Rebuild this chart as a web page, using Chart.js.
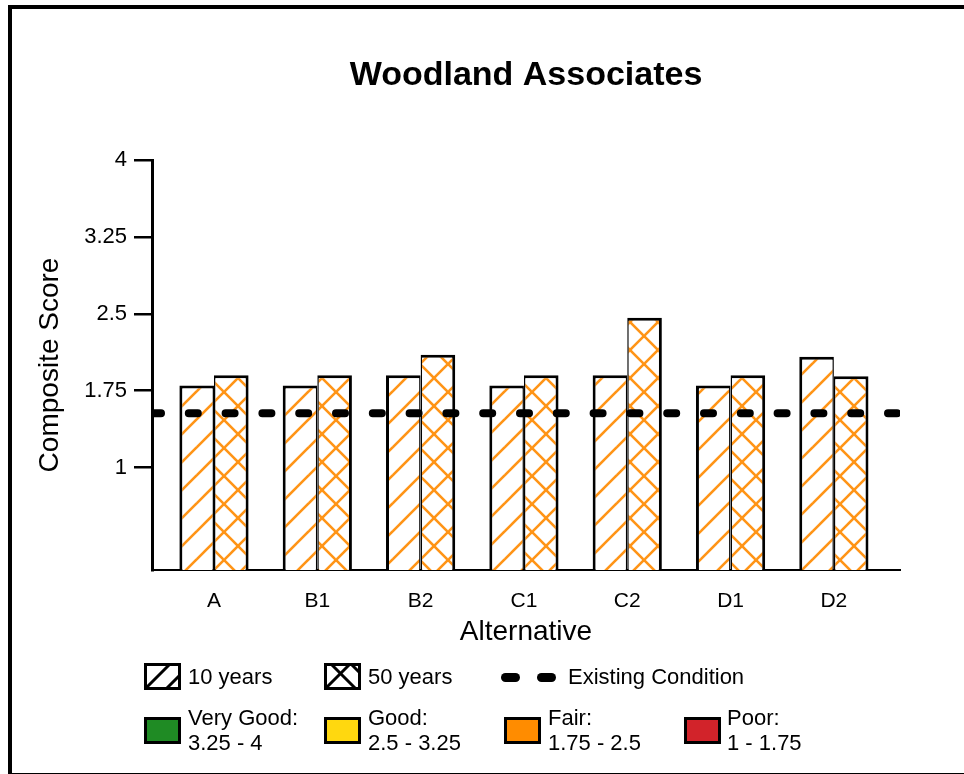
<!DOCTYPE html>
<html>
<head>
<meta charset="utf-8">
<script src="https://cdn.jsdelivr.net/npm/chart.js@4/dist/chart.umd.min.js"></script>
<style>
  html, body { margin: 0; padding: 0; background: #fff; overflow: hidden; }
  body { width: 964px; height: 774px; position: relative; font-family: 'Liberation Sans', Arial, sans-serif; color: #000; }
  #frame { position: absolute; left: 8px; top: 5px; width: 1000px; height: 764px; border-left: 4px solid #000; border-top: 4px solid #000; border-bottom: 2px solid #000; }
  #c { position: absolute; left: 0; top: 0; }
  .lg { position: absolute; font-size: 22px; line-height: 25px; white-space: nowrap; }
  .sw { position: absolute; box-sizing: border-box; border: 3px solid #000; }
  .dash { position: absolute; height: 9px; width: 19px; background: #000; border-radius: 5px; }
</style>
</head>
<body>
<div id="frame"></div>
<canvas id="c" width="964" height="774"></canvas>

<!-- legend row 1 -->
<svg class="sw" style="left:144px;top:663px;width:37px;height:27px;border:none" width="37" height="27">
  <rect x="1.5" y="1.5" width="34" height="24" fill="#fff" stroke="#000" stroke-width="3"/>
  <line x1="2" y1="25" x2="25" y2="2" stroke="#000" stroke-width="3"/>
  <line x1="23" y1="25" x2="35" y2="13" stroke="#000" stroke-width="3"/>
</svg>
<div class="lg" style="left:188px;top:664px">10 years</div>
<svg class="sw" style="left:324px;top:663px;width:37px;height:27px;border:none" width="37" height="27">
  <rect x="1.5" y="1.5" width="34" height="24" fill="#fff" stroke="#000" stroke-width="3"/>
  <line x1="2" y1="25" x2="25" y2="2" stroke="#000" stroke-width="3"/>
  <line x1="8" y1="2" x2="31" y2="25" stroke="#000" stroke-width="3"/>
  <line x1="28" y1="2" x2="35" y2="9" stroke="#000" stroke-width="3"/>
</svg>
<div class="lg" style="left:368px;top:664px">50 years</div>
<div class="dash" style="left:501px;top:673px"></div>
<div class="dash" style="left:537px;top:673px"></div>
<div class="lg" style="left:568px;top:664px">Existing Condition</div>

<!-- legend row 2 -->
<div class="sw" style="left:144px;top:717px;width:37px;height:27px;background:#1f8b24"></div>
<div class="lg" style="left:188px;top:705px">Very Good:<br>3.25 - 4</div>
<div class="sw" style="left:324px;top:717px;width:37px;height:27px;background:#ffd80f"></div>
<div class="lg" style="left:368px;top:705px">Good:<br>2.5 - 3.25</div>
<div class="sw" style="left:504px;top:717px;width:37px;height:27px;background:#ff8c00"></div>
<div class="lg" style="left:548px;top:705px">Fair:<br>1.75 - 2.5</div>
<div class="sw" style="left:684px;top:717px;width:37px;height:27px;background:#d2232a"></div>
<div class="lg" style="left:727px;top:705px">Poor:<br>1 - 1.75</div>

<script>
// ---- data ----
const categories = ['A', 'B1', 'B2', 'C1', 'C2', 'D1', 'D2'];
const tenYears   = [1.80, 1.80, 1.90, 1.80, 1.90, 1.80, 2.08];
const fiftyYears = [1.90, 1.90, 2.10, 1.90, 2.46, 1.90, 1.89];
const existingCondition = 1.53;
const yTicks = [1, 1.75, 2.5, 3.25, 4];
const xMin = -0.6, xMax = 6.64;

const ORANGE = '#ff9416';
function makeHatch(cross) {
  const s = 28;
  const cv = document.createElement('canvas');
  cv.width = s; cv.height = s;
  const g = cv.getContext('2d');
  g.fillStyle = '#fff'; g.fillRect(0, 0, s, s);
  g.strokeStyle = ORANGE; g.lineWidth = 2.6; g.lineCap = 'square';
  const line = (x1, y1, x2, y2) => { g.beginPath(); g.moveTo(x1, y1); g.lineTo(x2, y2); g.stroke(); };
  line(-2, s + 2, s + 2, -2);
  line(-2, 2, 2, -2);
  line(s - 2, s + 2, s + 2, s - 2);
  if (cross) {
    line(-2, -2, s + 2, s + 2);
    line(s - 2, -2, s + 2, 2);
    line(-2, s - 2, 2, s + 2);
  }
  return g.createPattern(cv, 'repeat');
}

Chart.defaults.font.family = "'Liberation Sans', Arial, sans-serif";
Chart.defaults.color = '#000';

new Chart(document.getElementById('c'), {
  type: 'bar',
  data: {
    datasets: [
      {
        type: 'line',
        label: 'Existing Condition',
        data: [{ x: xMin, y: existingCondition }, { x: xMax, y: existingCondition }],
        borderColor: '#000',
        borderWidth: 8,
        borderDash: [9, 27.8],
        borderCapStyle: 'round',
        pointRadius: 0,
        fill: false,
        order: 0
      },
      {
        label: '10 years',
        data: categories.map((c, i) => ({ x: i, y: tenYears[i] })),
        backgroundColor: makeHatch(false),
        borderColor: '#000',
        borderWidth: { top: 3, left: 3, right: 1.5, bottom: 0 },
        borderSkipped: 'start',
        order: 1
      },
      {
        label: '50 years',
        data: categories.map((c, i) => ({ x: i, y: fiftyYears[i] })),
        backgroundColor: makeHatch(true),
        borderColor: '#000',
        borderWidth: { top: 3, left: 1.5, right: 3, bottom: 0 },
        borderSkipped: 'start',
        order: 1
      }
    ]
  },
  options: {
    responsive: false,
    animation: false,
    events: [],
    categoryPercentage: 0.67,
    barPercentage: 1,
    layout: { padding: { left: 29, top: 0, right: 64, bottom: 121 } },
    plugins: {
      legend: { display: false },
      tooltip: { enabled: false },
      title: {
        display: true,
        text: 'Woodland Associates',
        fullSize: false,
        font: { size: 34, weight: 'bold' },
        color: '#000',
        padding: { top: 55, bottom: 64.2 }
      }
    },
    scales: {
      x: {
        type: 'linear',
        offset: false,
        min: xMin,
        max: xMax,
        afterFit: (s) => { s.height = 83; },
        afterBuildTicks: (s) => { s.ticks = categories.map((c, i) => ({ value: i })); },
        grid: { display: false, offset: false },
        border: { display: true, color: '#000', width: 2 },
        ticks: {
          autoSkip: false,
          maxRotation: 0,
          padding: 11,
          font: { size: 21 },
          color: '#000',
          callback: (v, i) => categories[i]
        },
        title: { display: true, text: 'Alternative', font: { size: 28 }, color: '#000', padding: { top: 4, bottom: 4 } }
      },
      y: {
        min: 0,
        max: 4,
        afterFit: (s) => { s.width = 123; },
        afterBuildTicks: (s) => { s.ticks = yTicks.map(v => ({ value: v })); },
        grid: { display: true, drawOnChartArea: false, drawTicks: true, tickLength: 18, color: '#000', lineWidth: 2.5 },
        border: { display: true, color: '#000', width: 3 },
        ticks: { padding: 7, font: { size: 22 }, color: '#000', callback: (v) => String(v) },
        title: { display: true, text: 'Composite Score', font: { size: 28 }, color: '#000', padding: { top: 4, bottom: 4 } }
      }
    }
  }
});
</script>
</body>
</html>
